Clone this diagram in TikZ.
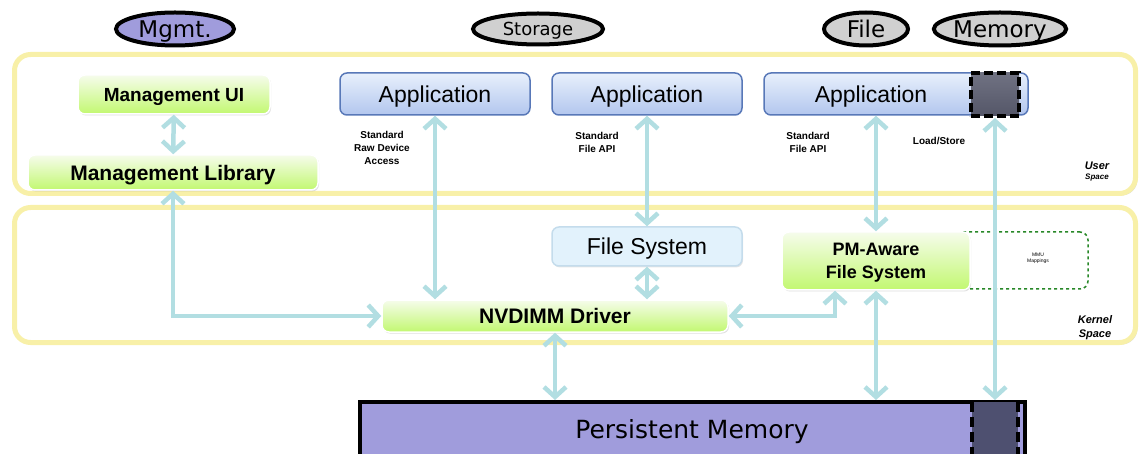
\documentclass[tikz,border=0pt]{standalone}
\usepackage{fontspec}
\setmainfont{Liberation Sans}
\newfontfamily\wide{DejaVu Sans}
\usetikzlibrary{arrows.meta,shapes.geometric,shadows}
\definecolor{framey}{RGB}{248,240,168}
\definecolor{arrowc}{RGB}{178,222,226}
\definecolor{apptop}{RGB}{232,240,252}
\definecolor{appbot}{RGB}{178,198,238}
\definecolor{appline}{RGB}{88,120,184}
\definecolor{greentop}{RGB}{246,252,236}
\definecolor{greenbot}{RGB}{194,248,112}
\definecolor{fsfill}{RGB}{226,242,252}
\definecolor{fsline}{RGB}{196,220,236}
\definecolor{pmfill}{RGB}{160,156,220}
\definecolor{ovalgray}{RGB}{208,208,208}
\definecolor{sqtop}{RGB}{112,114,130}
\definecolor{sqbot}{RGB}{84,86,104}
\definecolor{pmsqfill}{RGB}{78,80,112}
\definecolor{mmugreen}{RGB}{40,136,40}

\begin{document}
\begin{tikzpicture}
            [x=1pt,y=-1pt,
             frame/.style={draw=framey,line width=5pt,rounded corners=16pt,fill=white,
               drop shadow={opacity=.3,shadow xshift=2pt,shadow yshift=-2pt}},
             greenbox/.style={rounded corners=7pt,top color=greentop,bottom color=greenbot,
               draw=white,line width=1.5pt,align=center,text depth=0pt,
               drop shadow={opacity=.25,shadow xshift=1pt,shadow yshift=-1.5pt}},
             appbox/.style={rounded corners=7pt,top color=apptop,bottom color=appbot,
               draw=appline,line width=1.5pt,font=\fontsize{23}{27}\selectfont,text depth=0pt},
             oval/.style={ellipse,draw=black,line width=4pt,inner sep=0pt,text depth=0pt},
             note/.style={font=\bfseries\fontsize{10}{13}\selectfont,align=center},
             link/.style={draw=arrowc,line width=4.5pt,
               {Straight Barb[length=10pt,width=22pt]}-{Straight Barb[length=10pt,width=22pt]}}]
            \useasboundingbox (0,0) rectangle (1140,454);
            % headings
            \node[oval,fill=pmfill,minimum width=118pt,minimum height=33pt,font=\wide\fontsize{23}{27}\selectfont] (mgmt) at (175,29) {Mgmt.};
            \node[oval,fill=ovalgray,minimum width=130pt,minimum height=31pt,font=\wide\fontsize{18}{22}\selectfont] (storage) at (538,29) {Storage};
            \node[oval,fill=ovalgray,minimum width=84pt,minimum height=33pt,font=\wide\fontsize{23}{27}\selectfont] (file) at (866,29) {File};
            \node[oval,fill=ovalgray,minimum width=128pt,minimum height=33pt,font=\wide\fontsize{23}{27}\selectfont] (memory) at (1000,29) {Memory};
            %
            \node[frame,minimum width=1121pt,minimum height=139pt] (user) at (575,124) {};
            \node[frame,minimum width=1121pt,minimum height=135pt] (kernel) at (575,275) {};
            \node[align=center,font=\bfseries\itshape\fontsize{11}{12}\selectfont] (userlbl) at (1097,172) {User\\[-2pt]{\fontsize{8}{9}\selectfont Space}};
            \node[align=center,font=\bfseries\itshape\fontsize{11}{14}\selectfont] (kernellbl) at (1095,328) {Kernel\\Space};
            %
            \node[greenbox,minimum width=192pt,minimum height=39pt,font=\bfseries\fontsize{19}{23}\selectfont] (mui) at (174,94.5) {Management UI};
            \node[greenbox,minimum width=290pt,minimum height=35pt,font=\bfseries\fontsize{21}{25}\selectfont] (mlib) at (173,172.5) {Management Library};
            \node[appbox,minimum width=190pt,minimum height=42pt] (app1) at (435,94) {Application};
            \node[appbox,minimum width=190pt,minimum height=42pt] (app2) at (647,94) {Application};
            \node[appbox,minimum width=264pt,minimum height=42pt] (app3) at (896,94) {};
            \node[font=\fontsize{23}{27}\selectfont,text depth=0pt] (app3txt) at (871,94) {Application};
            \node[draw=black,line width=4pt,dash pattern=on 9pt off 4pt,top color=sqtop,bottom color=sqbot,minimum width=48pt,minimum height=43pt] (msq) at (995,94.5) {};
            %
            \node[note] (raw) at (382,148) {Standard\\Raw Device\\Access};
            \node[note] (api1) at (597,142) {Standard\\File API};
            \node[note] (api2) at (808,142) {Standard\\File API};
            \node[note] (ldst) at (939,141) {Load/Store};
            %
            \node[draw=mmugreen,line width=1.5pt,dashed,rounded corners=8pt,minimum width=143pt,minimum height=57pt] (mmu) at (1016.5,260.5) {};
            \node[align=center,font=\fontsize{5}{6}\selectfont] (mmutxt) at (1038,258) {MMU\\Mappings};
            \node[rounded corners=7pt,fill=fsfill,draw=fsline,line width=1.5pt,minimum width=190pt,minimum height=39pt,font=\fontsize{23}{27}\selectfont,text depth=0pt,
              drop shadow={opacity=.2,shadow xshift=1pt,shadow yshift=-1.5pt}] (fs) at (647,246.5) {File System};
            \node[greenbox,minimum width=188pt,minimum height=58pt,font=\bfseries\fontsize{18}{23}\selectfont] (pmfs) at (876,261) {PM-Aware\\File System};
            \node[greenbox,minimum width=346pt,minimum height=32pt,font=\bfseries\fontsize{21}{25}\selectfont] (nvd) at (555,316) {NVDIMM Driver};
            %
            \node[draw=black,line width=4pt,fill=pmfill,minimum width=665pt,minimum height=64pt] (pm) at (692.5,434) {};
            \node[font=\wide\fontsize{25}{30}\selectfont,text depth=0pt] (pmtxt) at (692,429) {Persistent Memory};
            \node[fill=pmsqfill,minimum width=46pt,minimum height=52pt] (pmsq) at (995,428) {};
            \draw[line width=4pt,dash pattern=on 10pt off 5pt] (pmsq.north west) -- (pmsq.south west);
            \draw[line width=4pt,dash pattern=on 10pt off 5pt] (pmsq.north east) -- (pmsq.south east);
            %
            \draw[link] (mui) -- (mlib);
            \draw[link] (mlib.south) |- (nvd.west);
            \draw[link] (app1.south) -- (app1.south |- nvd.north);
            \draw[link] (app2) -- (fs);
            \draw[link] (fs.south) -- (fs.south |- nvd.north);
            \draw[link] (pmfs.north |- app3.south) -- (pmfs.north);
            \draw[link] (nvd.east) -| ([xshift=-41pt]pmfs.south);
            \draw[link] (pmfs.south) -- (pmfs.south |- pm.north);
            \draw[link] (nvd.south) -- (nvd.south |- pm.north);
            \draw[link] (msq.south) -- (msq.south |- pm.north);
        \end{tikzpicture}
\end{document}
